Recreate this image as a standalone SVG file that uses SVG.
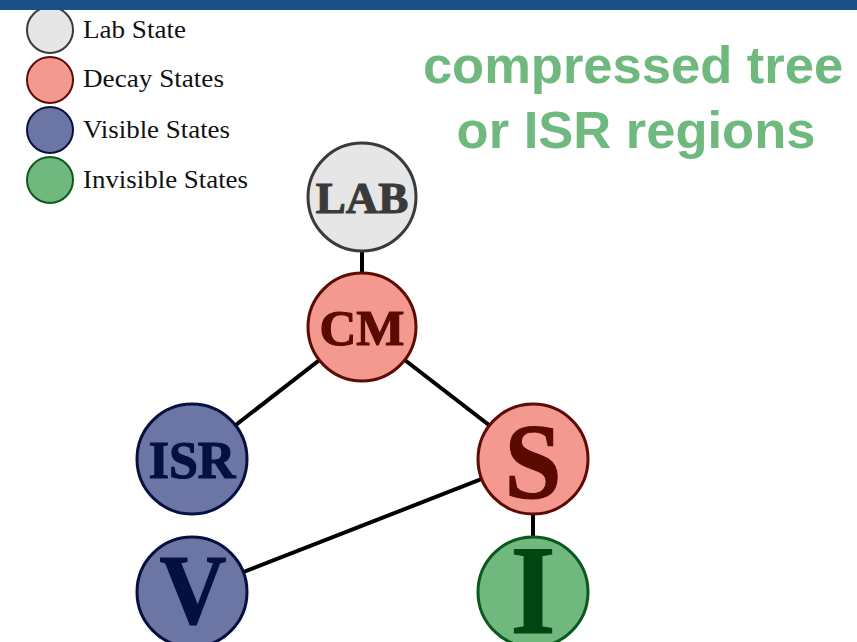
<svg xmlns="http://www.w3.org/2000/svg" width="857" height="642" viewBox="0 0 857 642">
<style>
.lg{font-family:"Liberation Serif","Times New Roman",serif;font-size:26px;fill:#111;}
.nt{font-family:"Liberation Serif","Times New Roman",serif;font-weight:bold;text-anchor:middle;stroke-width:1.2;}
.ttl{font-family:"Liberation Sans",Arial,sans-serif;font-weight:bold;font-size:52.5px;fill:#6fb87e;text-anchor:middle;}
.lab{fill:#e6e6e6;stroke:#3a3a3a;}
.dec{fill:#f39990;stroke:#5c0c02;}
.vis{fill:#6b76a4;stroke:#08103f;}
.inv{fill:#71b87f;stroke:#0a5a1e;}
.node circle{stroke-width:3;}
.leg circle{stroke-width:2;}
.edges line{stroke:#000;stroke-width:4;}
</style>
<rect x="0" y="0" width="857" height="642" fill="#fff"/>
<g id="legend" class="leg">
<circle class="lab" cx="50" cy="30" r="23"/>
<circle class="dec" cx="50" cy="80" r="23"/>
<circle class="vis" cx="50" cy="130" r="23"/>
<circle class="inv" cx="50" cy="180" r="23"/>
<text class="lg" x="83" y="38" textLength="103" lengthAdjust="spacingAndGlyphs">Lab State</text>
<text class="lg" x="83" y="87" textLength="141" lengthAdjust="spacingAndGlyphs">Decay States</text>
<text class="lg" x="83" y="138" textLength="147" lengthAdjust="spacingAndGlyphs">Visible States</text>
<text class="lg" x="83" y="188" textLength="165" lengthAdjust="spacingAndGlyphs">Invisible States</text>
</g>
<rect x="0" y="0" width="857" height="10" fill="#1a4f88"/>
<g id="title">
<text class="ttl" x="633" y="83">compressed tree</text>
<text class="ttl" x="636" y="148">or ISR regions</text>
</g>
<g id="edges" class="edges">
<line x1="362" y1="197" x2="362" y2="327"/>
<line x1="362" y1="327" x2="192" y2="459"/>
<line x1="362" y1="327" x2="533" y2="459"/>
<line x1="533" y1="459" x2="192" y2="592"/>
<line x1="533" y1="459" x2="533" y2="592"/>
</g>
<g id="LAB" class="node">
<circle class="lab" cx="362" cy="197" r="54"/>
<text class="nt" x="362" y="213" font-size="45" fill="#3a3a3a" stroke="#3a3a3a">LAB</text>
</g>
<g id="CM" class="node">
<circle class="dec" cx="362" cy="327" r="54"/>
<text class="nt" x="362" y="345" font-size="51" fill="#5a0a00" stroke="#5a0a00">CM</text>
</g>
<g id="ISR" class="node">
<circle class="vis" cx="192" cy="459" r="55"/>
<text class="nt" x="192" y="478" font-size="52" fill="#050f40" stroke="#050f40">ISR</text>
</g>
<g id="S" class="node">
<circle class="dec" cx="533" cy="459" r="55"/>
<text class="nt" x="533" y="498" font-size="108" fill="#5a0a00" stroke="#5a0a00" textLength="57" lengthAdjust="spacingAndGlyphs">S</text>
</g>
<g id="V" class="node">
<circle class="vis" cx="192" cy="592" r="55"/>
<text class="nt" x="193" y="623" font-size="99" fill="#050f40" stroke="#050f40" textLength="67" lengthAdjust="spacingAndGlyphs">V</text>
</g>
<g id="I" class="node">
<circle class="inv" cx="533" cy="592" r="55"/>
<text class="nt" x="533" y="633" font-size="126" fill="#004512" stroke="#004512" textLength="45" lengthAdjust="spacingAndGlyphs">I</text>
</g>
</svg>
